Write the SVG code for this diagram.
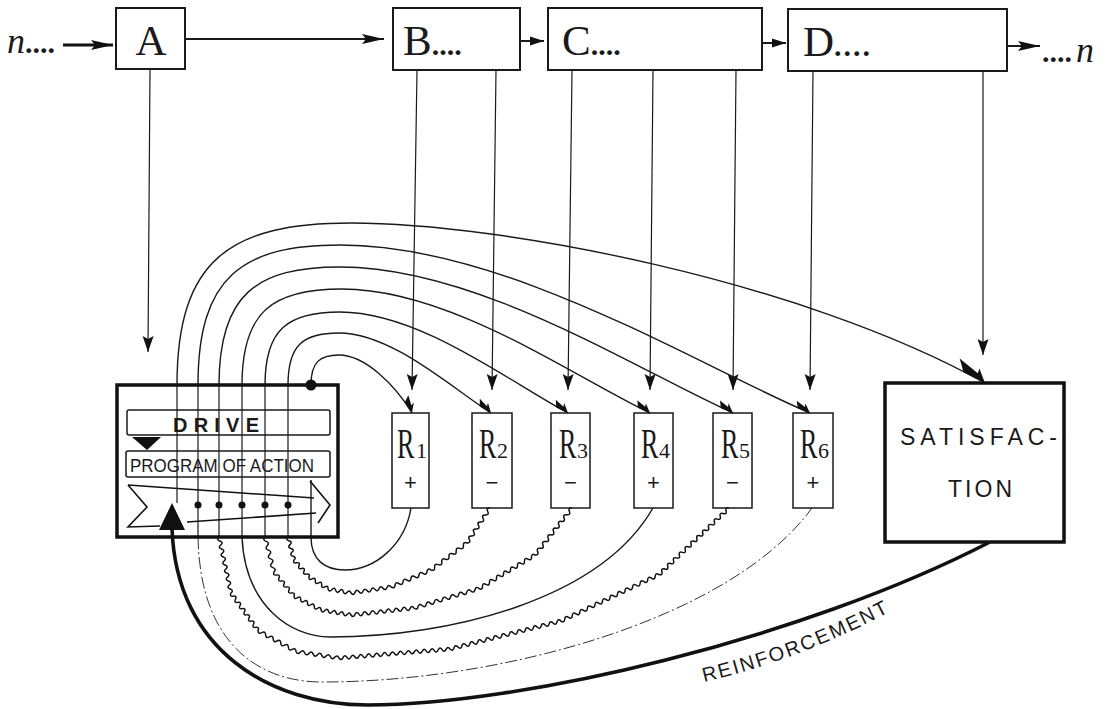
<svg xmlns="http://www.w3.org/2000/svg" width="1108" height="709" viewBox="0 0 1108 709">
<style>
.bx{fill:none;stroke:#1a1a1a;stroke-width:2}
.bxt{fill:none;stroke:#111;stroke-width:3.5}
.bxs{fill:none;stroke:#1a1a1a;stroke-width:1.5}
.ln{fill:none;stroke:#1a1a1a;stroke-width:1.2}
.arc{fill:none;stroke:#1a1a1a;stroke-width:1.4}
.wv{fill:none;stroke:#111;stroke-width:1.5;stroke-linejoin:round}
.dash{fill:none;stroke:#333;stroke-width:1;stroke-dasharray:12 3 2 3}
.reinf{fill:none;stroke:#111;stroke-width:3.6}
.ar{fill:none;stroke:#1a1a1a;stroke-width:2}
.serif{font-family:"Liberation Serif","Times New Roman",serif;fill:#1a1a1a}
.sans{font-family:"Liberation Sans",Arial,sans-serif;fill:#1a1a1a}
.big{font-size:43px}
.dots{font-size:30px;font-weight:bold}
.it{font-style:italic;font-size:36px}
.rl{font-size:42px}
.rd{font-size:22px}
.sg{font-size:22px;text-anchor:middle}
.fill{fill:#111;stroke:none}
</style>
<defs>
<marker id="ah" viewBox="-24 -6 26 12" refX="0" refY="0" markerWidth="26" markerHeight="12" markerUnits="userSpaceOnUse" orient="auto" overflow="visible"><path d="M0,0 L-22,-5 L-18,0 L-22,5 Z" fill="#111"/></marker>
<marker id="ahs" viewBox="-16 -6 18 12" refX="0" refY="0" markerWidth="18" markerHeight="12" markerUnits="userSpaceOnUse" orient="auto" overflow="visible"><path d="M0,0 L-14,-4.5 L-14,4.5 Z" fill="#111"/></marker>
<marker id="av" viewBox="-18 -7 20 14" refX="0" refY="0" markerWidth="20" markerHeight="14" markerUnits="userSpaceOnUse" orient="auto" overflow="visible"><path d="M0,0 L-16,-5.5 L-13,0 L-16,5.5 Z" fill="#111"/></marker>
<marker id="bolt" viewBox="-20 -10 22 14" refX="0" refY="0" markerWidth="22" markerHeight="14" markerUnits="userSpaceOnUse" orient="auto" overflow="visible"><path d="M0,0 L-8,-7 L-7,-3.5 L-17,-6 L-13,0.5 Z" fill="#111"/></marker>
<marker id="boltL" viewBox="-36 -14 38 20" refX="0" refY="0" markerWidth="38" markerHeight="20" markerUnits="userSpaceOnUse" orient="auto" overflow="visible"><path d="M0,0 L-12,-10 L-11,-5 L-34,-9 L-24,1 Z" fill="#111"/></marker>
<path id="rp" d="M704,682 Q800,660 897,608"/>
</defs>

<g id="connectors">
  <line x1="63" y1="45" x2="113" y2="45" stroke="#111" stroke-width="3" marker-end="url(#ah)"/>
  <line x1="185" y1="39" x2="384" y2="39" class="ar" marker-end="url(#ah)"/>
  <line x1="521" y1="41" x2="544" y2="41" class="ar" marker-end="url(#ahs)"/>
  <line x1="763" y1="43" x2="786" y2="43" class="ar" marker-end="url(#ahs)"/>
  <line x1="1007" y1="46" x2="1040" y2="46" class="ar" marker-end="url(#ah)"/>
  <line x1="150" y1="69" x2="148" y2="352" class="ln" marker-end="url(#av)"/>
  <line x1="417" y1="70" x2="412" y2="390" class="ln" marker-end="url(#av)"/>
  <line x1="496" y1="70" x2="492" y2="390" class="ln" marker-end="url(#av)"/>
  <line x1="572" y1="70" x2="568" y2="390" class="ln" marker-end="url(#av)"/>
  <line x1="653" y1="70" x2="650" y2="390" class="ln" marker-end="url(#av)"/>
  <line x1="736" y1="70" x2="733" y2="390" class="ln" marker-end="url(#av)"/>
  <line x1="813" y1="71" x2="810" y2="390" class="ln" marker-end="url(#av)"/>
  <line x1="983" y1="71" x2="983" y2="355" class="ln" marker-end="url(#av)"/>
  <line x1="177" y1="385" x2="177" y2="503" class="ln"/>
  <line x1="198" y1="385" x2="198" y2="537" class="ln"/>
  <line x1="219" y1="385" x2="219" y2="537" class="ln"/>
  <line x1="242" y1="385" x2="242" y2="537" class="ln"/>
  <line x1="265" y1="385" x2="265" y2="537" class="ln"/>
  <line x1="288" y1="385" x2="288" y2="537" class="ln"/>
  <path class="arc" d="M177,385 C177,260 230,223 351,223 C500,223 800,280 985,383" marker-end="url(#boltL)"/>
  <path class="arc" d="M198,385 C198,277 242,245 340,245 C505,245 693,363 810,413" marker-end="url(#bolt)"/>
  <path class="arc" d="M219,385 C219,294 257,267 340,267 C478,267 635,369 733,413" marker-end="url(#bolt)"/>
  <path class="arc" d="M242,385 C242,311 273,289 342,289 C450,289 573,376 650,413" marker-end="url(#bolt)"/>
  <path class="arc" d="M265,385 C265,329 288,312 340,312 C420,312 511,383 568,413" marker-end="url(#bolt)"/>
  <path class="arc" d="M288,385 C288,345 303,333 339,333 C392,333 453,389 491,413" marker-end="url(#bolt)"/>
  <path class="arc" d="M311,385 C311,362 320,355 339,355 C365,355 395,385 412,413" marker-end="url(#bolt)"/>
  <path class="arc" d="M311,480 L311,537 C311,560 325,570 345,570 C375,570 405,545 411,508"/>
  <path class="wv" d="M288,537 q-2.88,2.8 1,3.83 t1,3.83 1,3.83 1,3.83 1,3.83 1,3.83 q-1.37,3.73 2.5,2.83 t2.5,2.83 2.5,2.83 2.5,2.83 2.5,2.83 2.5,2.83 q-0.28,3.96 3.17,2 t3.17,2 3.17,2 3.17,2 3.17,2 3.17,2 q1.31,3.79 3.83,0.67 t3.83,0.67 3.83,0.67 3.83,0.67 3.83,0.67 3.83,0.67 q2.52,3.16 4,-0.6 t4,-0.6 4,-0.6 4,-0.6 4,-0.6 4,-0.6 4,-0.6 4,-0.6 4,-0.6 4,-0.6 q3.37,2.37 4,-1.7 t4,-1.7 4,-1.7 4,-1.7 4,-1.7 4,-1.7 4,-1.7 4,-1.7 4,-1.7 4,-1.7 q3.9,1.45 3.6,-2.7 t3.6,-2.7 3.6,-2.7 3.6,-2.7 3.6,-2.7 3.6,-2.7 3.6,-2.7 3.6,-2.7 3.6,-2.7 3.6,-2.7 q4.07,0.17 2.3,-3.5 t2.3,-3.5 2.3,-3.5 2.3,-3.5 2.3,-3.5 2.3,-3.5 2.3,-3.5 2.3,-3.5 2.3,-3.5 2.3,-3.5"/>
  <path class="wv" d="M265,537 q-2.83,3.06 1.125,4.375 t1.125,4.375 1.125,4.375 1.125,4.375 1.125,4.375 1.125,4.375 1.125,4.375 1.125,4.375 q-1.44,3.74 2.5,3 t2.5,3 2.5,3 2.5,3 2.5,3 2.5,3 2.5,3 2.5,3 q0.08,3.98 3.375,1.75 t3.375,1.75 3.375,1.75 3.375,1.75 3.375,1.75 3.375,1.75 3.375,1.75 3.375,1.75 q1.3,3.76 3.75,0.625 t3.75,0.625 3.75,0.625 3.75,0.625 3.75,0.625 3.75,0.625 3.75,0.625 3.75,0.625 q2.36,3.26 3.9375,-0.4375 t3.9375,-0.4375 3.9375,-0.4375 3.9375,-0.4375 3.9375,-0.4375 3.9375,-0.4375 3.9375,-0.4375 3.9375,-0.4375 3.9375,-0.4375 3.9375,-0.4375 3.9375,-0.4375 3.9375,-0.4375 3.9375,-0.4375 3.9375,-0.4375 3.9375,-0.4375 3.9375,-0.4375 q3.03,2.74 4.0625,-1.219 t4.0625,-1.219 4.0625,-1.219 4.0625,-1.219 4.0625,-1.219 4.0625,-1.219 4.0625,-1.219 4.0625,-1.219 4.0625,-1.219 4.0625,-1.219 4.0625,-1.219 4.0625,-1.219 4.0625,-1.219 4.0625,-1.219 4.0625,-1.219 4.0625,-1.219 q3.55,1.95 3.5,-2.094 t3.5,-2.094 3.5,-2.094 3.5,-2.094 3.5,-2.094 3.5,-2.094 3.5,-2.094 3.5,-2.094 3.5,-2.094 3.5,-2.094 3.5,-2.094 3.5,-2.094 3.5,-2.094 3.5,-2.094 3.5,-2.094 3.5,-2.094 q4.07,0.49 2.643,-3.357 t2.643,-3.357 2.643,-3.357 2.643,-3.357 2.643,-3.357 2.643,-3.357 2.643,-3.357 2.643,-3.357 2.643,-3.357 2.643,-3.357 2.643,-3.357 2.643,-3.357 2.643,-3.357 2.643,-3.357"/>
  <path class="arc" d="M242,537 C245,605 290,637 330,637 C450,637 600,600 653,508"/>
  <path class="wv" d="M219,537 q-2.99,2.73 0.857,4 t0.857,4 0.857,4 0.857,4 0.857,4 0.857,4 0.857,4 0.857,4 0.857,4 0.857,4 0.857,4 0.857,4 0.857,4 0.857,4 q-1.72,3.61 2.25,3.125 t2.25,3.125 2.25,3.125 2.25,3.125 2.25,3.125 2.25,3.125 2.25,3.125 2.25,3.125 2.25,3.125 2.25,3.125 2.25,3.125 2.25,3.125 q0.21,4.12 3.8,2.1 t3.8,2.1 3.8,2.1 3.8,2.1 3.8,2.1 3.8,2.1 3.8,2.1 3.8,2.1 3.8,2.1 3.8,2.1 q1.63,3.79 4.3,0.65 t4.3,0.65 4.3,0.65 4.3,0.65 4.3,0.65 4.3,0.65 4.3,0.65 4.3,0.65 4.3,0.65 4.3,0.65 q2.26,3.33 3.964,-0.321 t3.964,-0.321 3.964,-0.321 3.964,-0.321 3.964,-0.321 3.964,-0.321 3.964,-0.321 3.964,-0.321 3.964,-0.321 3.964,-0.321 3.964,-0.321 3.964,-0.321 3.964,-0.321 3.964,-0.321 3.964,-0.321 3.964,-0.321 3.964,-0.321 3.964,-0.321 3.964,-0.321 3.964,-0.321 3.964,-0.321 3.964,-0.321 3.964,-0.321 3.964,-0.321 3.964,-0.321 3.964,-0.321 3.964,-0.321 3.964,-0.321 q2.84,2.9 3.964,-1 t3.964,-1 3.964,-1 3.964,-1 3.964,-1 3.964,-1 3.964,-1 3.964,-1 3.964,-1 3.964,-1 3.964,-1 3.964,-1 3.964,-1 3.964,-1 3.964,-1 3.964,-1 3.964,-1 3.964,-1 3.964,-1 3.964,-1 3.964,-1 3.964,-1 3.964,-1 3.964,-1 3.964,-1 3.964,-1 3.964,-1 3.964,-1 q3.38,2.27 3.769,-1.788 t3.769,-1.788 3.769,-1.788 3.769,-1.788 3.769,-1.788 3.769,-1.788 3.769,-1.788 3.769,-1.788 3.769,-1.788 3.769,-1.788 3.769,-1.788 3.769,-1.788 3.769,-1.788 3.769,-1.788 3.769,-1.788 3.769,-1.788 3.769,-1.788 3.769,-1.788 3.769,-1.788 3.769,-1.788 3.769,-1.788 3.769,-1.788 3.769,-1.788 3.769,-1.788 3.769,-1.788 3.769,-1.788 q3.87,1.15 2.917,-2.771 t2.917,-2.771 2.917,-2.771 2.917,-2.771 2.917,-2.771 2.917,-2.771 2.917,-2.771 2.917,-2.771 2.917,-2.771 2.917,-2.771 2.917,-2.771 2.917,-2.771 2.917,-2.771 2.917,-2.771 2.917,-2.771 2.917,-2.771 2.917,-2.771 2.917,-2.771 2.917,-2.771 2.917,-2.771 2.917,-2.771 2.917,-2.771 2.917,-2.771 2.917,-2.771"/>
  <path class="dash" d="M198,537 C200,645 260,682 322,682 C500,682 730,620 812,508"/>
  <path class="reinf" d="M172,528 C176,650 270,705 368,705 C520,705 800,640 990,542"/>
  <text class="sans" font-size="20" letter-spacing="2"><textPath href="#rp">REINFORCEMENT</textPath></text>
</g>

<g id="n-left"><text x="7" y="53" class="serif"><tspan class="it">n</tspan><tspan class="dots" font-size="25">....</tspan></text></g>
<g id="nodeA"><rect x="116" y="8" width="69" height="61" class="bx"/><text x="151" y="55" class="serif big" text-anchor="middle">A</text></g>
<g id="nodeB"><rect x="393" y="8" width="127" height="62" class="bx"/><text x="403" y="55" class="serif big">B<tspan class="dots">....</tspan></text></g>
<g id="nodeC"><rect x="548" y="8" width="214" height="62" class="bx"/><text x="562" y="55" class="serif big">C<tspan class="dots">....</tspan></text></g>
<g id="nodeD"><rect x="788" y="9" width="219" height="62" class="bx"/><text x="803" y="56" class="serif big">D<tspan class="dots" letter-spacing="2">....</tspan></text></g>
<g id="n-right"><text x="1042" y="62" class="serif"><tspan class="dots" font-size="25">....</tspan><tspan class="it" dx="4">n</tspan></text></g>

<g id="program">
  <rect x="117" y="385" width="221" height="152" class="bxt"/>
  <circle cx="311" cy="385" r="5.5" class="fill"/>
  <g id="drive">
    <rect x="127" y="410" width="203" height="25" rx="2" class="bxs"/>
    <text x="173" y="432" class="sans" font-size="20" font-weight="bold" textLength="86" lengthAdjust="spacing">DRIVE</text>
  </g>
  <polygon points="132,437 161,437 147,450" class="fill"/>
  <g id="program-of-action">
    <rect x="126" y="451" width="204" height="26" rx="2" class="bxs"/>
    <text x="130" y="472" class="sans" font-size="19" textLength="184" lengthAdjust="spacingAndGlyphs">PROGRAM OF ACTION</text>
  </g>
  <g fill="none" stroke="#111" stroke-width="1.6">
    <polyline points="128,485 314,498"/>
    <polyline points="310,481 330,505 318,523"/>
    <polyline points="316,513 187,522"/>
    <polyline points="160,526 128,527 147,507 128,485"/>
  </g>
  <polygon points="172,503 159,530 185,530" class="fill"/>
  <circle cx="198" cy="505" r="3.5" class="fill"/>
  <circle cx="219" cy="505" r="3.5" class="fill"/>
  <circle cx="242" cy="505" r="3.5" class="fill"/>
  <circle cx="265" cy="505" r="3.5" class="fill"/>
  <circle cx="288" cy="505" r="3.5" class="fill"/>
</g>

<g id="R1"><rect x="392" y="413" width="37" height="95" class="bxs"/><text class="serif rl" transform="translate(397,458) scale(0.62,1)">R</text><text x="416" y="458" class="serif rd">1</text><text x="410.5" y="490" class="sans sg">+</text></g>
<g id="R2"><rect x="472" y="413" width="40" height="95" class="bxs"/><text class="serif rl" transform="translate(479,458) scale(0.62,1)">R</text><text x="497" y="458" class="serif rd">2</text><text x="492" y="490" class="sans sg">−</text></g>
<g id="R3"><rect x="551" y="413" width="39" height="95" class="bxs"/><text class="serif rl" transform="translate(559,458) scale(0.62,1)">R</text><text x="577" y="458" class="serif rd">3</text><text x="570.5" y="490" class="sans sg">−</text></g>
<g id="R4"><rect x="634" y="413" width="39" height="95" class="bxs"/><text class="serif rl" transform="translate(641,458) scale(0.62,1)">R</text><text x="659" y="458" class="serif rd">4</text><text x="653.5" y="490" class="sans sg">+</text></g>
<g id="R5"><rect x="713" y="413" width="39" height="95" class="bxs"/><text class="serif rl" transform="translate(721,458) scale(0.62,1)">R</text><text x="739" y="458" class="serif rd">5</text><text x="732.5" y="490" class="sans sg">−</text></g>
<g id="R6"><rect x="793" y="413" width="40" height="95" class="bxs"/><text class="serif rl" transform="translate(800,458) scale(0.62,1)">R</text><text x="818" y="458" class="serif rd">6</text><text x="813" y="490" class="sans sg">+</text></g>

<g id="satisfaction">
  <rect x="885" y="383" width="179" height="159" class="bxt"/>
  <text x="900" y="445" class="sans" font-size="23" textLength="157" lengthAdjust="spacing">SATISFAC-</text>
  <text x="948" y="497" class="sans" font-size="23" textLength="64" lengthAdjust="spacing">TION</text>
</g>
</svg>
